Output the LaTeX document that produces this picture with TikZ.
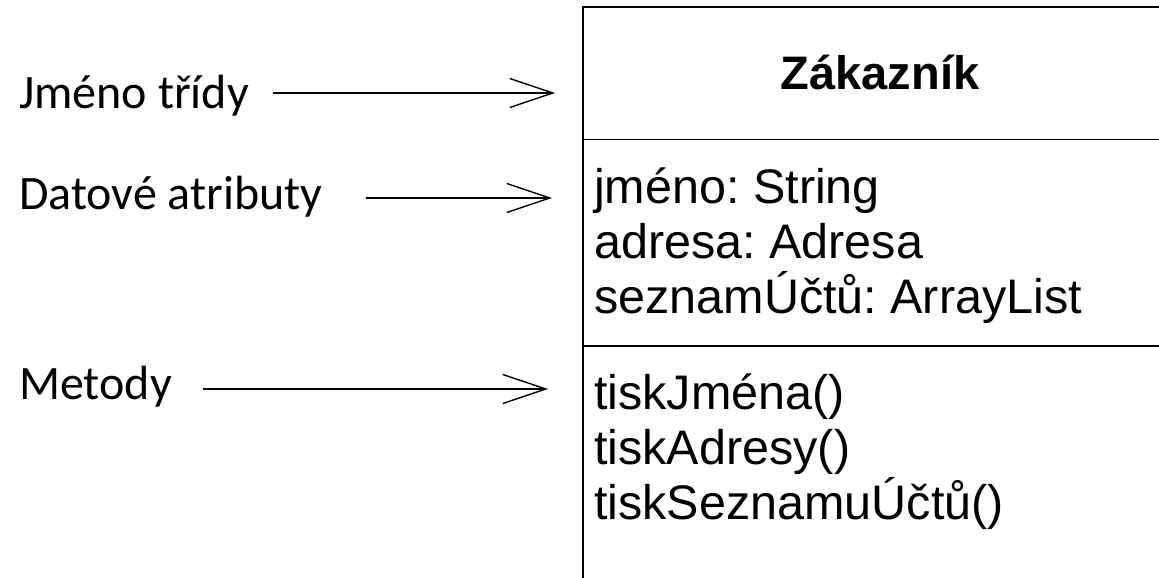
\documentclass[tikz,border=0pt]{standalone}
\usepackage{fontspec}
\setmainfont{Liberation Sans}
\newfontfamily\calibri{Carlito}
\usetikzlibrary{arrows.meta}
\frenchspacing

\tikzset{
  label/.style={font=\calibri\fontsize{48}{52}\selectfont, inner sep=0pt, anchor=base west},
  member/.style={font=\fontsize{48.5}{55}\selectfont, inner sep=0pt, anchor=base west},
  classname/.style={font=\bfseries\fontsize{47}{52}\selectfont, inner sep=0pt, anchor=base},
  frame/.style={line width=1.8pt, black},
  pointer/.style={line width=1.4pt, black, -{Straight Barb[length=43pt,width=29pt]}},
}

\begin{document}
\begin{tikzpicture}[x=1pt, y=-1pt]
  \useasboundingbox (0,0) rectangle (1159,578);
  \clip (0,0) rectangle (1159,578);

  % class box: open to the right and at the bottom
  \draw[frame] (1200,7) -- (583,7) -- (583,620);
  \draw[frame] (583,139.5) -- (1200,139.5);
  \draw[frame] (583,346) -- (1200,346);

  % class name
  \node[classname] (cname) at (880,89) {Zákazník};

  % attributes
  \node[member] (attr1) at (594,203) {jméno: String};
  \node[member] (attr2) at (594,258) {adresa: Adresa};
  \node[member] (attr3) at (594,313) {seznamÚčtů: ArrayList};

  % operations
  \node[member] (op1) at (594,409) {tiskJména()};
  \node[member] (op2) at (594,464) {tiskAdresy()};
  \node[member] (op3) at (594,519) {tiskSeznamuÚčtů()};

  % labels on the left
  \node[label] (lname)  at (19,108) {Jméno třídy};
  \node[label] (lattr)  at (19,209) {Datové atributy};
  \node[label] (lmeth)  at (19,399) {Metody};

  % arrow ends
  \coordinate (s1) at (273,93);  \coordinate (t1) at (555,93);
  \coordinate (s2) at (366,198); \coordinate (t2) at (552,198);
  \coordinate (s3) at (203,389); \coordinate (t3) at (548,389);

  \draw[pointer] (s1) -- (t1);
  \draw[pointer] (s2) -- (t2);
  \draw[pointer] (s3) -- (t3);
\end{tikzpicture}
\end{document}
